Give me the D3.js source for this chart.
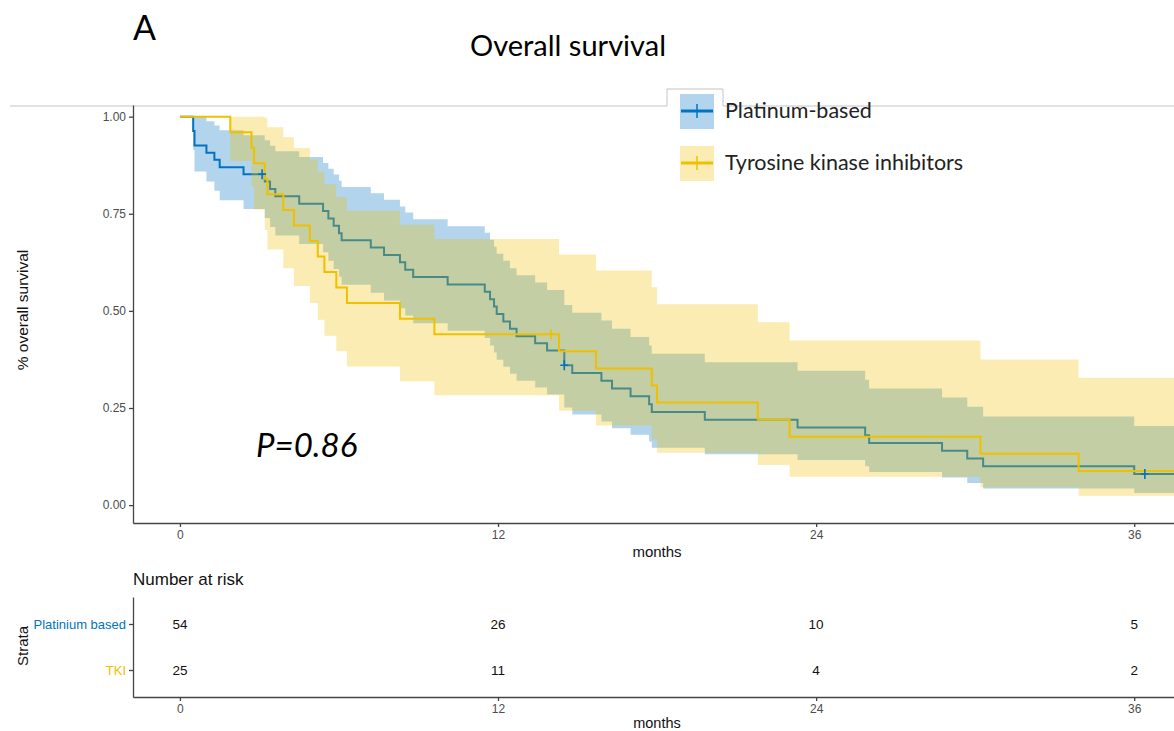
<!DOCTYPE html>
<html>
<head>
<meta charset="utf-8">
<script src="https://cdn.jsdelivr.net/npm/d3@7"></script>
<style>
body{margin:0;background:#fff;}
svg{display:block;font-family:"Liberation Sans",Arial,sans-serif;}
.big{font-family:Lato,"Open Sans",sans-serif;}
</style>
</head>
<body>
<div id="chart"></div>
<script>
// x axis ticks (months) and number at risk table
const months=[0,12,24,36];
const strata=['Platinium based','TKI'];
const riskPlatinum=[54,26,10,5];
const riskTKI=[25,11,4,2];
const legendLabels=['Platinum-based','Tyrosine kinase inhibitors'];
const yTicks=[0,0.25,0.5,0.75,1];

// Platinum-based: event times, KM estimate, 95% CI
const platTime=[0,0.5,0.55,1.0,1.3,1.5,2.4,3.2,3.4,3.6,4.5,5.4,5.6,5.8,6.0,6.1,7.2,7.7,8.3,8.5,8.8,10.1,11.5,11.7,11.85,11.95,12.2,12.45,12.7,13.4,13.85,14.5,14.8,15.9,16.3,17.0,17.7,17.8,19.8,23.3,25.85,26.0,28.75,29.7,30.3,36.0];
const platSurv=[1,0.963,0.926,0.907,0.889,0.870,0.852,0.833,0.814,0.795,0.776,0.757,0.738,0.719,0.700,0.682,0.663,0.644,0.625,0.606,0.587,0.568,0.549,0.530,0.511,0.492,0.473,0.454,0.435,0.417,0.398,0.360,0.340,0.320,0.300,0.280,0.260,0.240,0.220,0.200,0.180,0.160,0.140,0.120,0.100,0.080];
const platLower=[1,0.914,0.859,0.833,0.809,0.785,0.762,0.739,0.716,0.694,0.672,0.651,0.629,0.608,0.588,0.567,0.547,0.527,0.507,0.488,0.468,0.449,0.430,0.411,0.393,0.374,0.356,0.338,0.320,0.303,0.285,0.251,0.233,0.215,0.198,0.181,0.164,0.148,0.131,0.116,0.100,0.085,0.071,0.057,0.043,0.031];
const platUpper=[1,1,0.999,0.988,0.977,0.965,0.952,0.939,0.925,0.911,0.896,0.881,0.866,0.851,0.835,0.819,0.803,0.786,0.769,0.753,0.736,0.718,0.701,0.683,0.665,0.647,0.629,0.610,0.592,0.573,0.554,0.515,0.495,0.475,0.454,0.433,0.411,0.390,0.368,0.346,0.323,0.300,0.277,0.253,0.228,0.204];
const platCensor=[3.1,14.5,36.4];

// TKI
const tkiTime=[0,1.9,2.7,2.8,3.2,3.3,3.9,4.3,4.9,5.2,5.45,5.9,6.3,8.3,9.6,14.3,15.7,17.8,18.0,21.8,23.0,30.2,33.9];
const tkiSurv=[1,0.96,0.92,0.88,0.84,0.80,0.76,0.72,0.68,0.64,0.60,0.56,0.52,0.48,0.44,0.396,0.352,0.308,0.264,0.22,0.176,0.132,0.088];
const tkiLower=[1,0.886,0.820,0.761,0.708,0.658,0.610,0.564,0.520,0.477,0.436,0.396,0.357,0.319,0.283,0.243,0.205,0.169,0.135,0.103,0.073,0.046,0.024];
const tkiUpper=[1,1,1,1,0.997,0.973,0.947,0.919,0.890,0.859,0.826,0.793,0.758,0.722,0.685,0.645,0.604,0.561,0.517,0.471,0.424,0.375,0.328];
const tkiCensor=[14.0];

const colors=['#0073C2','#EFC000'];

const W=1174,H=731;
const svg=d3.select('#chart').append('svg').attr('width',W).attr('height',H);

const x=d3.scaleLinear().domain([-1.77,37.5]).range([133,1174]);
const y=d3.scaleLinear().domain([-0.046,1.03]).range([523,105]);

// header
svg.append('text').attr('class','big').attr('x',133).attr('y',40).attr('font-size',34).text('A');
svg.append('text').attr('class','big').attr('x',568).attr('y',56).attr('text-anchor','middle').attr('font-size',29).text('Overall survival');
svg.append('path').attr('d','M10,106H667V89H723V106H1174').attr('fill','none').attr('stroke','#c4c4c4').attr('stroke-width',1);

svg.append('clipPath').attr('id','plot').append('rect')
 .attr('x',x.range()[0]).attr('y',y.range()[1]).attr('width',x.range()[1]-x.range()[0]).attr('height',y.range()[0]-y.range()[1]);

function series(t,s,lo,hi){
 const pts=t.map((d,i)=>({t:d,s:s[i],lo:lo[i],hi:hi[i]}));
 pts.push(Object.assign({},pts[pts.length-1],{t:x.domain()[1]}));
 return pts;
}
function survAt(t,times,surv){let k=0;times.forEach((d,i)=>{if(d<=t)k=i;});return surv[k];}

const groups=[
 {pts:series(platTime,platSurv,platLower,platUpper),cens:platCensor.map(c=>({t:c,s:survAt(c,platTime,platSurv)})),color:colors[0]},
 {pts:series(tkiTime,tkiSurv,tkiLower,tkiUpper),cens:tkiCensor.map(c=>({t:c,s:survAt(c,tkiTime,tkiSurv)})),color:colors[1]}
];

const area=d3.area().curve(d3.curveStepAfter).x(d=>x(d.t)).y0(d=>y(d.lo)).y1(d=>y(d.hi));
const line=d3.line().curve(d3.curveStepAfter).x(d=>x(d.t)).y(d=>y(d.s));

const plot=svg.append('g').attr('clip-path','url(#plot)');
groups.forEach(g=>{
 plot.append('path').attr('d',area(g.pts)).attr('fill',g.color).attr('fill-opacity',0.3);
 plot.append('path').attr('d',line(g.pts)).attr('fill','none').attr('stroke',g.color).attr('stroke-width',2);
});
groups.forEach(g=>{
 plot.selectAll(null).data(g.cens).enter().append('path')
  .attr('d',d=>`M${x(d.t)-4},${y(d.s)}H${x(d.t)+4}M${x(d.t)},${y(d.s)-5}V${y(d.s)+5}`)
  .attr('stroke',g.color).attr('stroke-width',1.6);
});

// axes
function styleAxis(a){
 a.selectAll('path,line').attr('stroke','#444').attr('stroke-width',1.3);
 a.selectAll('text').attr('fill','#4d4d4d').attr('font-size',12);
}
svg.append('g').attr('transform',`translate(0,${y.range()[0]})`)
 .call(d3.axisBottom(x).tickValues(months).tickSize(4).tickSizeOuter(0)).call(styleAxis);
svg.append('g').attr('transform',`translate(${x.range()[0]},0)`)
 .call(d3.axisLeft(y).tickValues(yTicks).tickFormat(d3.format('.2f')).tickSize(4).tickSizeOuter(0)).call(styleAxis);
svg.append('text').attr('x',657).attr('y',557).attr('text-anchor','middle').attr('font-size',15).attr('fill','#111').text('months');
svg.append('text').attr('transform','translate(28,310) rotate(-90)').attr('text-anchor','middle').attr('font-size',15.5).attr('fill','#111').text('% overall survival');

svg.append('text').attr('class','big').attr('x',256).attr('y',457).attr('font-size',33).attr('font-style','italic').text('P=0.86');

// legend
const leg=svg.append('g');
legendLabels.forEach((lab,i)=>{
 const cy=111+i*52;
 leg.append('rect').attr('x',680).attr('y',cy-17).attr('width',34).attr('height',35).attr('fill',colors[i]).attr('fill-opacity',0.3);
 leg.append('line').attr('x1',681).attr('x2',713).attr('y1',cy).attr('y2',cy).attr('stroke',colors[i]).attr('stroke-width',3);
 leg.append('line').attr('x1',697).attr('x2',697).attr('y1',cy-7).attr('y2',cy+7).attr('stroke',colors[i]).attr('stroke-width',1.5);
 leg.append('text').attr('class','big').attr('x',725).attr('y',cy+7).attr('font-size',21.5).attr('fill','#222').text(lab);
});

// risk table
svg.append('text').attr('x',133).attr('y',585).attr('font-size',17).attr('fill','#111').text('Number at risk');
const yr=d3.scalePoint().domain(strata).range([597,697]).padding(0.587);
const risk=[riskPlatinum,riskTKI];
const ra=svg.append('g').attr('transform',`translate(${x.range()[0]},0)`)
 .call(d3.axisLeft(yr).tickSize(4).tickSizeOuter(0)).call(styleAxis);
ra.selectAll('.tick text').attr('fill',(d,i)=>colors[i]).attr('font-size',13);
svg.append('g').attr('transform','translate(0,697)')
 .call(d3.axisBottom(x).tickValues(months).tickSize(4).tickSizeOuter(0)).call(styleAxis);
strata.forEach((s,i)=>{
 svg.append('g').selectAll('text').data(risk[i]).enter().append('text')
  .attr('x',(d,j)=>x(months[j])).attr('y',yr(s)).attr('dy','0.35em').attr('text-anchor','middle')
  .attr('font-size',13.5).attr('fill','#111').text(d=>d);
});
svg.append('text').attr('transform','translate(28,646) rotate(-90)').attr('text-anchor','middle').attr('font-size',15).attr('fill','#111').text('Strata');
svg.append('text').attr('x',657).attr('y',728).attr('text-anchor','middle').attr('font-size',14.5).attr('fill','#111').text('months');
</script>
</body>
</html>
